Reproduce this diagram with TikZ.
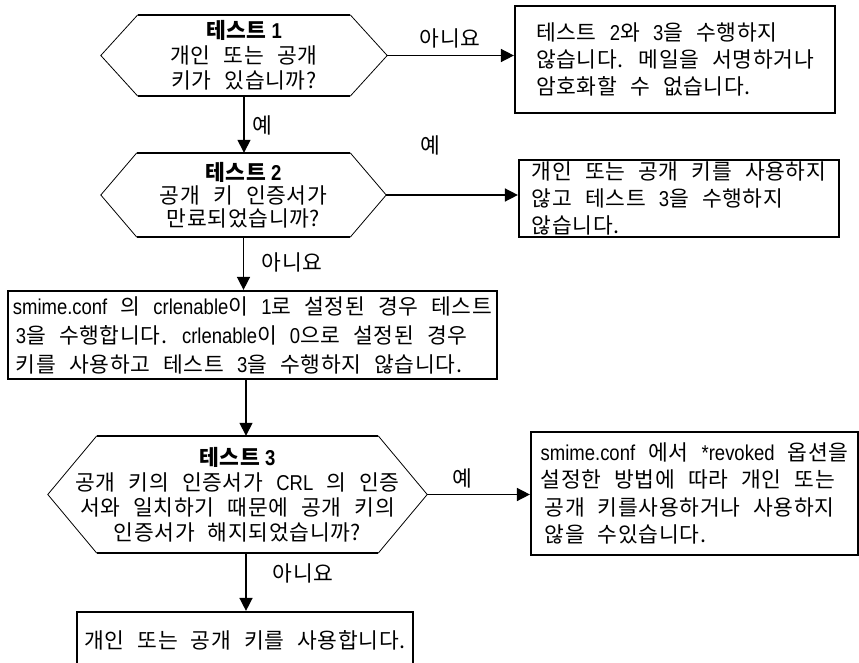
\documentclass[tikz,border=0pt]{standalone}
\usepackage{fontspec}
\setmainfont{Noto Sans CJK KR}[WordSpace=2.4,LetterSpace=3]
\newfontfamily\latfont[FakeStretch=0.86,WordSpace=1]{Liberation Sans}
\newcommand\latn[1]{{\latfont #1}}
\usetikzlibrary{arrows.meta,calc}
\tikzset{
  txt/.style={font=\fontsize{21.5}{26}\selectfont, inner sep=0pt, align=center},
  boxnode/.style={txt, draw, line width=2.2pt, rectangle, align=left},
  hexnode/.style={txt, rectangle, align=center},
  hexside/.style={line width=0.8pt},
  hexedge/.style={line width=2.2pt},
  conn/.style={line width=1.5pt, -{Triangle[length=13pt,width=13pt]}},
  lbl/.style={txt}
}
\newcommand\hexoutline[2]{%
  \draw[hexside] ($(#1.north west)+(#2,0)$) -- (#1.west) -- ($(#1.south west)+(#2,0)$);
  \draw[hexside] ($(#1.north east)+(-#2,0)$) -- (#1.east) -- ($(#1.south east)+(-#2,0)$);
  \draw[hexedge] ($(#1.north west)+(#2,0)$) -- ($(#1.north east)+(-#2,0)$);
  \draw[hexedge] ($(#1.south west)+(#2,0)$) -- ($(#1.south east)+(-#2,0)$);
}
\begin{document}
\begin{tikzpicture}[x=1pt,y=-1pt]
\useasboundingbox (0,0) rectangle (859,663);
\clip (0,0) rectangle (859,663);
\fill[white] (0,0) rectangle (859,663);

% decisions
\node[hexnode, minimum width=286pt, minimum height=81pt, font=\fontsize{21.5}{25}\selectfont] (h1) at (244,55.5)
  {\textbf{테스트\hspace{5pt}\latn{1}}\\개인 또는 공개\\키가 있습니까?};
\hexoutline{h1}{37}

\node[hexnode, minimum width=285pt, minimum height=84pt, font=\fontsize{21.5}{23}\selectfont] (h2) at (243.5,195)
  {\textbf{테스트\hspace{5pt}\latn{2}}\\공개 키 인증서가\\만료되었습니까?};
\hexoutline{h2}{36}

\node[hexnode, minimum width=379pt, minimum height=117pt, font=\fontsize{21.5}{25}\selectfont] (h3) at (237.5,494.5)
  {\textbf{테스트\hspace{5pt}\latn{3}}\\공개 키의 인증서가 \latn{CRL} 의 인증\\서와 일치하기 때문에 공개 키의\\인증서가 해지되었습니까?};
\hexoutline{h3}{49}

% boxes
\node[boxnode, minimum width=320pt, minimum height=107pt, font=\fontsize{21.5}{27}\selectfont] (b1) at (675,59.5)
  {테스트 \latn{2}와 \latn{3}을 수행하지\\않습니다. 메일을 서명하거나\\암호화할 수 없습니다.};

\node[boxnode, minimum width=320pt, minimum height=77pt, font=\fontsize{21.5}{27}\selectfont] (b2) at (679,198.5)
  {개인 또는 공개 키를 사용하지\\않고 테스트 \latn{3}을 수행하지\\않습니다.};

\node[boxnode, minimum width=489pt, minimum height=88pt, font=\fontsize{21.5}{29}\selectfont] (b3) at (252.5,335)
  {\latn{smime.conf} 의 \latn{crlenable}이 \latn{1}로 설정된 경우 테스트\\\hspace*{3pt}\latn{3}을 수행합니다. \latn{crlenable}이 \latn{0}으로 설정된 경우\\\hspace*{3pt}키를 사용하고 테스트 \latn{3}을 수행하지 않습니다.};

\node[boxnode, minimum width=327pt, minimum height=123pt, font=\fontsize{21.5}{27.5}\selectfont] (b4) at (694.5,493.5)
  {\latn{smime.conf} 에서 \latn{*revoked} 옵션을\\설정한 방법에 따라 개인 또는\\\hspace*{4pt}공개 키를사용하거나 사용하지\\\hspace*{4pt}않을 수있습니다.};

\node[boxnode, minimum width=336pt, minimum height=56pt] (b5) at (245,640)
  {개인 또는 공개 키를 사용합니다.};

% connectors
\coordinate (spine) at (246,0);
\draw[conn] (h1.east) -- (h1.east -| b1.west);
\draw[conn] (h1.south) -- (h1.south |- h2.north);
\draw[conn] (h2.east) -- (h2.east -| b2.west);
\draw[conn] (h2.south) -- (h2.south |- b3.north);
\draw[conn] (b3.south -| spine) -- (spine |- h3.north);
\draw[conn] (h3.east) -- (h3.east -| b4.west);
\draw[conn] (h3.south -| spine) -- (spine |- b5.north);

% labels
\node[lbl] (l1) at (450,38) {아니요};
\node[lbl] (l2) at (262,125) {예};
\node[lbl] (l3) at (430,145) {예};
\node[lbl] (l4) at (292,262) {아니요};
\node[lbl] (l5) at (462,478) {예};
\node[lbl] (l6) at (303,573) {아니요};
\end{tikzpicture}
\end{document}
